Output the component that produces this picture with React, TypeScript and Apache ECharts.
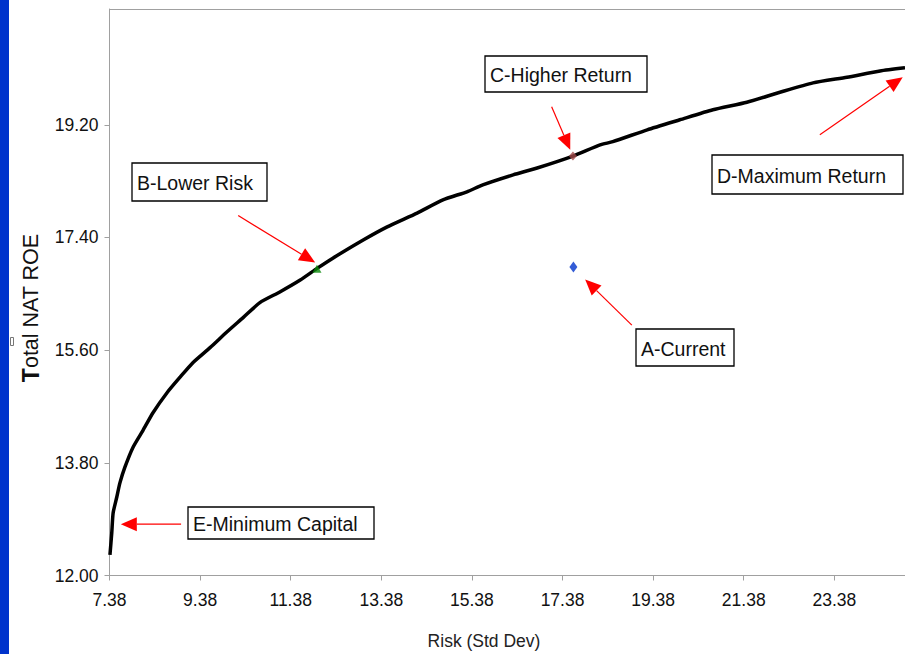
import React, { useEffect, useRef } from "react";
import * as echarts from "echarts";

// Efficient frontier: risk (std dev) vs total NAT ROE
const frontierRisk = [
  7.39, 7.43, 7.46, 7.54, 7.61, 7.72, 7.9, 8.12, 8.34, 8.65, 8.94, 9.22, 9.6, 9.97,
  10.33, 10.7, 11.14, 11.59, 11.97, 12.31, 12.98, 13.51, 14.17, 14.74, 15.27, 15.62,
  16.29, 16.82, 17.61, 18.21, 18.49, 19.25, 19.97, 20.7, 21.45, 22.18, 22.91, 23.66,
  24.39, 24.94,
];
const frontierRoe = [
  12.33, 12.68, 13.0, 13.25, 13.48, 13.73, 14.05, 14.32, 14.6, 14.92, 15.17, 15.4,
  15.64, 15.89, 16.12, 16.36, 16.53, 16.72, 16.91, 17.07, 17.36, 17.57, 17.79, 18.0,
  18.13, 18.24, 18.4, 18.51, 18.7, 18.88, 18.93, 19.12, 19.28, 19.44, 19.56, 19.72,
  19.87, 19.96, 20.06, 20.11,
];

const pointA = [17.62, 16.93]; // A-Current
const pointB = [11.96, 16.9]; // B-Lower Risk
const pointC = [17.61, 18.7]; // C-Higher Return

const xTicks = [7.38, 9.38, 11.38, 13.38, 15.38, 17.38, 19.38, 21.38, 23.38];
const yTicks = [12.0, 13.8, 15.6, 17.4, 19.2];

const annotationTexts = [
  "C-Higher Return",
  "B-Lower Risk",
  "D-Maximum Return",
  "A-Current",
  "E-Minimum Capital",
];
// arrows in data coordinates: [from, tip]
const arrowFrom = [
  [17.14, 19.49],
  [10.22, 17.75],
  [23.06, 19.04],
  [18.91, 16.0],
  [8.96, 12.82],
];
const arrowTip = [
  [17.55, 18.8],
  [11.92, 17.0],
  [24.89, 19.96],
  [17.88, 16.73],
  [7.63, 12.82],
];

// layout of annotation boxes (pixels)
const boxLayout = [
  { x: 485, y: 56, w: 162, h: 36 },
  { x: 132, y: 163, w: 135, h: 38 },
  { x: 712, y: 155, w: 191, h: 39 },
  { x: 636, y: 329, w: 98, h: 37 },
  { x: 188, y: 507, w: 186, h: 32 },
];

const FONT = "'Liberation Sans', Arial, sans-serif";

export default function App() {
  const ref = useRef<HTMLDivElement>(null);

  useEffect(() => {
    document.body.style.margin = "0";
    if (!ref.current) return;
    const chart = echarts.init(ref.current, null, { renderer: "svg" });

    const baseGraphic: any[] = [
      {
        type: "rect",
        shape: { x: 0, y: 0, width: 9, height: 654 },
        style: { fill: "#0033cc" },
      },
      {
        type: "rect",
        shape: { x: 10.5, y: 337.5, width: 3, height: 8 },
        style: { fill: "none", stroke: "#777", lineWidth: 1 },
      },
      {
        type: "text",
        x: 31,
        y: 308,
        rotation: Math.PI / 2,
        style: {
          text: "{b|T}{n|otal NAT ROE}",
          rich: {
            b: { fontWeight: "bold", fontSize: 23, fontFamily: FONT, fill: "#111" },
            n: { fontSize: 21.5, fontFamily: FONT, fill: "#111" },
          },
          align: "center",
          verticalAlign: "middle",
        },
      },
      {
        type: "text",
        x: 484,
        y: 641,
        style: {
          text: "Risk (Std Dev)",
          fontSize: 17.5,
          fontFamily: FONT,
          fill: "#222",
          align: "center",
          verticalAlign: "middle",
        },
      },
    ];
    annotationTexts.forEach((t, i) => {
      const b = boxLayout[i];
      baseGraphic.push({
        type: "group",
        z: 100,
        children: [
          {
            type: "rect",
            shape: { x: b.x, y: b.y, width: b.w, height: b.h },
            style: { fill: "#fff", stroke: "#000", lineWidth: 1.3 },
          },
          {
            type: "text",
            x: b.x + 5,
            y: b.y + b.h / 2 + 1,
            style: {
              text: t,
              fontSize: 19.5,
              fontFamily: FONT,
              fill: "#111",
              verticalAlign: "middle",
              align: "left",
            },
          },
        ],
      });
    });

    const axisLabelCommon = {
      color: "#111",
      fontSize: 17.5,
      fontFamily: FONT,
      formatter: (v: number) => v.toFixed(2),
    };

    chart.setOption({
      animation: false,
      backgroundColor: "#ffffff",
      grid: {
        left: 109.5,
        top: 9,
        right: 0,
        bottom: 78.5,
        show: false,
      },
      xAxis: [
        {
          type: "value",
          min: 7.38,
          max: 24.94,
          axisLine: { show: true, onZero: false, lineStyle: { color: "#a0a0a0", width: 1 } },
          axisTick: {
            show: true,
            customValues: xTicks,
            length: 5,
            lineStyle: { color: "#a0a0a0" },
          },
          axisLabel: { ...axisLabelCommon, customValues: xTicks, margin: 15 },
          splitLine: { show: false },
        },
        {
          type: "value",
          position: "top",
          min: 7.38,
          max: 24.94,
          axisLine: { show: true, onZero: false, lineStyle: { color: "#a0a0a0", width: 1 } },
          axisTick: { show: false },
          axisLabel: { show: false },
          splitLine: { show: false },
        },
      ],
      yAxis: {
        type: "value",
        min: 12,
        max: 21.05,
        axisLine: { show: true, onZero: false, lineStyle: { color: "#a0a0a0", width: 1 } },
        axisTick: {
          show: true,
          customValues: yTicks,
          length: 5,
          lineStyle: { color: "#a0a0a0" },
        },
        axisLabel: { ...axisLabelCommon, customValues: yTicks, margin: 11 },
        splitLine: { show: false },
      },
      series: [
        {
          type: "line",
          data: frontierRisk.map((x, i) => [x, frontierRoe[i]]),
          showSymbol: false,
          smooth: 0.2,
          lineStyle: { color: "#000", width: 3.5 },
          z: 2,
        },
        {
          type: "scatter",
          data: [pointA],
          symbol: "diamond",
          symbolSize: [8, 11],
          itemStyle: { color: "#0033cc" },
          z: 5,
        },
        {
          type: "scatter",
          data: [pointB],
          symbol: "triangle",
          symbolSize: [9, 8],
          itemStyle: { color: "#0a8a0a" },
          z: 5,
        },
        {
          type: "scatter",
          data: [pointC],
          symbol: "diamond",
          symbolSize: [8, 9],
          itemStyle: { color: "#a04848" },
          z: 5,
        },
      ],
      graphic: baseGraphic,
    });

    const arrows: any[] = [];
    const L = 16;
    const W = 7;
    arrowFrom.forEach((f, i) => {
      const s = chart.convertToPixel({ gridIndex: 0 }, f) as number[];
      const t = chart.convertToPixel({ gridIndex: 0 }, arrowTip[i]) as number[];
      const dx = t[0] - s[0];
      const dy = t[1] - s[1];
      const len = Math.sqrt(dx * dx + dy * dy);
      const ux = dx / len;
      const uy = dy / len;
      const bx = t[0] - ux * L;
      const by = t[1] - uy * L;
      const nx = -uy;
      const ny = ux;
      arrows.push({
        type: "line",
        z: 90,
        shape: { x1: s[0], y1: s[1], x2: bx, y2: by },
        style: { stroke: "#ff0000", lineWidth: 1.2 },
      });
      arrows.push({
        type: "polygon",
        z: 90,
        shape: {
          points: [
            [t[0], t[1]],
            [bx + nx * W, by + ny * W],
            [bx - nx * W, by - ny * W],
          ],
        },
        style: { fill: "#ff0000" },
      });
    });

    chart.setOption({ graphic: [...baseGraphic, ...arrows] });

    return () => {
      chart.dispose();
    };
  }, []);

  return <div ref={ref} style={{ width: 905, height: 654 }} />;
}
